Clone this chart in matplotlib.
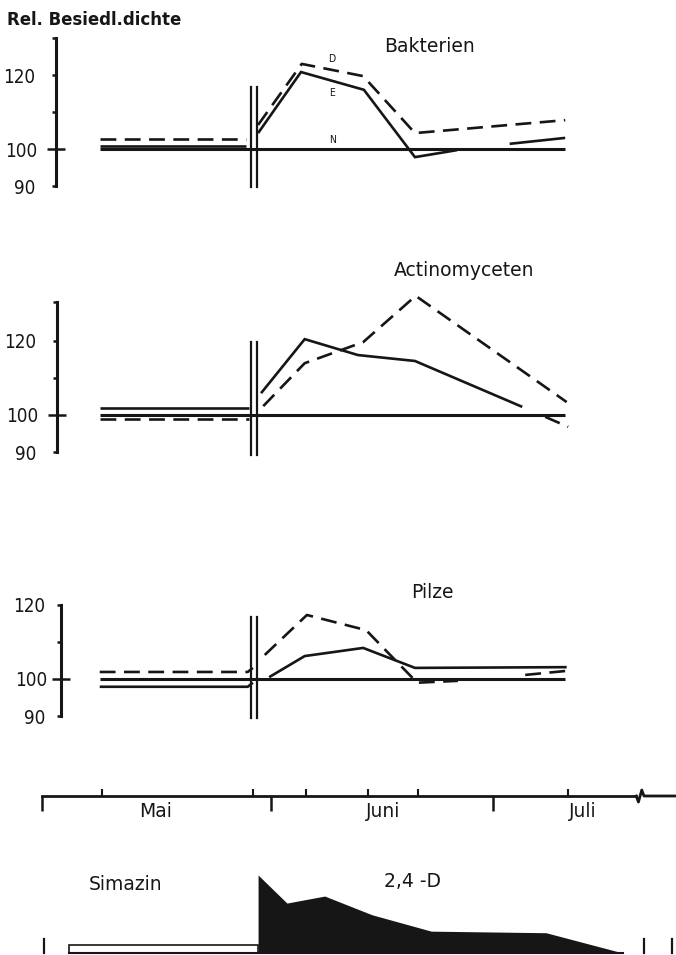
import matplotlib
matplotlib.use("Agg")
import matplotlib.pyplot as plt
from matplotlib.transforms import blended_transform_factory
from matplotlib.ticker import FixedLocator, FixedFormatter, NullFormatter

W, H, DPI = 676, 955, 100

# ---- time axis: days counted from 1 May ----
PX0, PXD = 42.0, 7.4                    # pixel of day 0, pixels per day
XMIN, XMAX = -PX0 / PXD, (W - PX0) / PXD

month_starts = [0, 31, 61]
month_names = ["Mai", "Juni", "Juli"]
month_label_days = [15.4, 46.1, 73.1]
sample_days = [8.1, 28.5, 35.7, 44.0, 50.8, 71.1]
break_day = 80.8
treatment_days = [28.2, 29.0]

# ---- Bakterien ----
bak_N_days, bak_N = [7.8, 70.7], [100, 100]
bak_pre_days = [7.8, 27.6]
bak_D_pre, bak_E_pre = [102.7, 102.7], [100.8, 100.8]
bak_D_days = [29.2, 35.1, 43.4, 50.4, 70.7]
bak_D = [106.5, 123.0, 119.7, 104.3, 107.8]
bak_E_days = [29.2, 35.0, 43.5, 50.4, 56.1]
bak_E = [104.3, 120.8, 116.0, 97.8, 99.7]
bak_E2_days, bak_E2 = [63.2, 70.7], [101.4, 103.0]

# ---- Actinomyceten ----
act_N_days, act_N = [7.8, 70.7], [100, 100]
act_pre_days = [7.8, 28.0]
act_E_pre, act_D_pre = [101.9, 101.9], [99.0, 99.0]
act_E_days = [29.6, 35.5, 42.7, 50.4, 64.9]
act_E = [105.9, 120.5, 116.2, 114.6, 102.2]
act_D_days = [29.9, 35.5, 43.4, 50.5, 70.9]
act_D = [102.4, 114.0, 119.7, 132.2, 103.5]
act_D2_days, act_D2 = [68.0, 71.1], [99.5, 96.8]

# ---- Pilze ----
pil_N_days, pil_N = [7.8, 70.7], [100, 100]
pil_pre_days = [7.8, 27.8, 28.5]
pil_D_pre, pil_E_pre = [101.9, 101.9, 103.0], [97.9, 97.9, 99.0]
pil_E_days = [30.7, 35.5, 43.4, 50.4, 70.9]
pil_E = [100.5, 106.2, 108.4, 103.0, 103.2]
pil_D_days = [30.1, 35.8, 43.8, 50.7, 56.2]
pil_D = [106.5, 117.3, 113.2, 99.0, 99.5]
pil_D2_days, pil_D2 = [65.3, 70.9], [101.1, 102.2]

# ---- herbicide residues (relative) ----
d24_days = [29.2, 29.2, 33.1, 38.2, 44.6, 52.6, 68.1, 78.5]
d24_conc = [0, 100, 64, 73, 49, 28, 26, 0]
sim_days, sim_level = [3.6, 29.2], 10

INK = "#161616"
LW = 1.9
DASH = (6, 3.2)
plt.rcParams["font.family"] = ["DejaVu Sans"]
plt.rcParams["font.stretch"] = "condensed"
LABEL_KW = dict(fontsize=13.5, fontstretch="normal", ha="center", va="center", color=INK)

fig = plt.figure(figsize=(W / DPI, H / DPI), dpi=DPI)
fig.patch.set_facecolor("white")


def px_to_day(px):
    return (px - PX0) / PXD


def panel(top_px, bot_px, y100_px, px_per_unit):
    ax = fig.add_axes([0, 1 - bot_px / H, 1, (bot_px - top_px) / H])
    ax.set_xlim(XMIN, XMAX)
    ax.set_ylim(100 - (bot_px - y100_px) / px_per_unit,
                100 + (y100_px - top_px) / px_per_unit)
    ax.patch.set_visible(False)
    for s in ("top", "right", "bottom"):
        ax.spines[s].set_visible(False)
    ax.set_xticks([])
    return ax


def y_axis(ax, xpx, top_val, label_txt, minor_vals, pad_major=7, pad_minor=12):
    sp = ax.spines["left"]
    sp.set_position(("data", px_to_day(xpx)))
    sp.set_bounds(90, top_val)
    sp.set_linewidth(2.2)
    sp.set_color(INK)
    ax.yaxis.set_major_locator(FixedLocator([100]))
    ax.yaxis.set_major_formatter(FixedFormatter(["100"]))
    ax.yaxis.set_minor_locator(FixedLocator(minor_vals))
    ax.yaxis.set_minor_formatter(FixedFormatter(label_txt))
    ax.tick_params(axis="y", which="major", direction="inout", length=13,
                   width=1.8, color=INK, pad=pad_major, labelsize=13.5, labelcolor=INK)
    ax.tick_params(axis="y", which="minor", direction="out", length=3,
                   width=1.8, color=INK, pad=pad_minor, labelsize=13.5, labelcolor=INK)


def series(ax, days, vals, dashed=False, lw=LW):
    ln, = ax.plot(days, vals, color=INK, lw=lw, solid_joinstyle="miter",
                  solid_capstyle="butt", dash_capstyle="butt")
    if dashed:
        ln.set_dashes(DASH)
    return ln


def treatment(ax, lo, hi):
    for d in treatment_days:
        ax.plot([d, d], [lo, hi], color=INK, lw=1.6)


# ---------- Bakterien ----------
ax1 = panel(25, 205, 149, 3.7)
y_axis(ax1, 56, 130, ["90", "", "120", ""], [90, 110, 120, 130])
series(ax1, bak_N_days, bak_N, lw=2.2)
series(ax1, bak_pre_days, bak_E_pre)
series(ax1, bak_pre_days, bak_D_pre, dashed=True)
series(ax1, bak_D_days, bak_D, dashed=True)
series(ax1, bak_E_days, bak_E)
series(ax1, bak_E2_days, bak_E2)
treatment(ax1, 89.8, 116.8)
for lab, val in (("D", 124.4), ("E", 115.2), ("N", 102.4)):
    ax1.text(39.2, val, lab, fontsize=7.5, ha="center", va="center", color=INK)
ax1.text(px_to_day(430), 100 + (149 - 46) / 3.7, "Bakterien", **LABEL_KW)
fig.text(7 / W, 1 - 20 / H, "Rel. Besiedl.dichte", fontsize=13.2,
         fontweight="bold", ha="left", va="center", color=INK)

# ---------- Actinomyceten ----------
ax2 = panel(285, 470, 415, 3.7)
y_axis(ax2, 57, 130.5, ["90", "", "120", ""], [90, 110, 120, 130.5])
series(ax2, act_N_days, act_N, lw=2.2)
series(ax2, act_pre_days, act_E_pre)
series(ax2, act_pre_days, act_D_pre, dashed=True)
series(ax2, act_E_days, act_E)
series(ax2, act_D_days, act_D, dashed=True)
series(ax2, act_D2_days, act_D2, dashed=True)
treatment(ax2, 89.2, 119.7)
ax2.text(px_to_day(464), 100 + (415 - 270) / 3.7, "Actinomyceten", **LABEL_KW)

# ---------- Pilze ----------
ax3 = panel(575, 735, 679, 3.7)
y_axis(ax3, 61, 120, ["90", "", "120"], [90, 110, 120], pad_major=3, pad_minor=8)
series(ax3, pil_N_days, pil_N, lw=2.2)
series(ax3, pil_pre_days, pil_E_pre)
series(ax3, pil_pre_days, pil_D_pre, dashed=True)
series(ax3, pil_E_days, pil_E)
series(ax3, pil_D_days, pil_D, dashed=True)
series(ax3, pil_D2_days, pil_D2, dashed=True)
treatment(ax3, 89.5, 116.8)
ax3.text(px_to_day(432), 100 + (679 - 592) / 3.7, "Pilze", **LABEL_KW)

# ---------- month axis ----------
axis_px = 796
axt = fig.add_axes([0, 1 - axis_px / H, 1, 30 / H])
axt.set_xlim(XMIN, XMAX)
axt.set_ylim(0, 1)
axt.patch.set_visible(False)
for s in ("top", "right", "left"):
    axt.spines[s].set_visible(False)
axt.spines["bottom"].set_bounds(0, break_day - 0.5)
axt.spines["bottom"].set_linewidth(2.0)
axt.spines["bottom"].set_color(INK)
axt.set_yticks([])
axt.xaxis.set_major_locator(FixedLocator(month_starts))
axt.xaxis.set_major_formatter(NullFormatter())
axt.xaxis.set_minor_locator(FixedLocator(sample_days))
axt.tick_params(axis="x", which="major", direction="out", length=11, width=1.8, color=INK)
axt.tick_params(axis="x", which="minor", direction="in", length=5, width=1.5, color=INK)
tr = blended_transform_factory(axt.transData, axt.transAxes)
axt.plot([break_day - 0.5, break_day - 0.2, break_day + 0.25, break_day + 0.55, XMAX],
         [0, -0.2, 0.2, 0, 0], transform=tr, color=INK, lw=2.0, clip_on=False)
trf = blended_transform_factory(axt.transData, fig.transFigure)
for name, d in zip(month_names, month_label_days):
    axt.text(d, 1 - 811 / H, name, transform=trf, **LABEL_KW)

# ---------- herbicide residues ----------
base_px, top_px, upx = 953, 860, 0.78
axh = fig.add_axes([0, 0, 1, (H - top_px) / H])
axh.set_xlim(XMIN, XMAX)
axh.set_ylim(-(H - base_px) / upx, (base_px - top_px) / upx)
axh.axis("off")
axh.bar(sim_days[0], sim_level, width=sim_days[1] - sim_days[0], align="edge",
        facecolor="white", edgecolor=INK, linewidth=1.2)
axh.fill_between(d24_days, 0, d24_conc, color=INK, linewidth=0)
axh.plot([sim_days[0], d24_days[-1]], [0, 0], color=INK, lw=1.5)
for d in (0.27, 81.3, 85.1):
    axh.plot([d, d], [0, 18], color=INK, lw=1.6, clip_on=False)
axh.text(11.3, (base_px - 884) / upx, "Simazin", **LABEL_KW)
axh.text(50.0, (base_px - 881) / upx, "2,4 -D", **LABEL_KW)

fig.savefig("out.png", dpi=DPI, facecolor="white")
